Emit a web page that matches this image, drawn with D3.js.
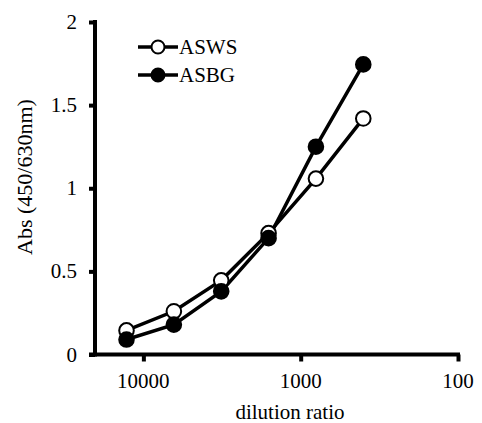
<!DOCTYPE html>
<html>
<head>
<meta charset="utf-8">
<script src="https://cdn.jsdelivr.net/npm/d3@7"></script>
<style>
html,body{margin:0;padding:0;background:#fff;}
</style>
</head>
<body>
<svg id="chart" width="482" height="423"></svg>
<script>
const dilutions = [12800, 6400, 3200, 1600, 800, 400];
const aswsValues = [0.145, 0.26, 0.446, 0.73, 1.058, 1.42];
const asbgValues = [0.09, 0.18, 0.38, 0.70, 1.25, 1.745];
const xTickValues = [10000, 1000, 100];
const yTickValues = [0, 0.5, 1, 1.5, 2];
const seriesNames = ["ASWS", "ASBG"];

const FONT_CSS = "21px Tinos, 'Liberation Serif', serif";
const svg = d3.select("#chart");
const x = d3.scaleLog().domain([20300, 100]).range([95, 458]);
const y = d3.scaleLinear().domain([0, 2]).range([354.5, 22]);

function addText(parent, txt, size) {
  return parent.append("text").style("font", `${size}px Tinos, 'Liberation Serif', serif`)
    .attr("fill", "#000").text(txt);
}

// Axes (lines + ticks via d3 axis, labels drawn as separate text)
const gx = svg.append("g").attr("transform", "translate(0,354.5)")
  .call(d3.axisBottom(x).tickValues(xTickValues).tickFormat("").tickSize(7).tickSizeOuter(0));
gx.select(".domain").attr("stroke", "#000").attr("stroke-width", 4).attr("d", "M89,0H460");
gx.selectAll(".tick line").attr("stroke", "#000").attr("stroke-width", 4);
gx.selectAll(".tick text").remove();

const gy = svg.append("g").attr("transform", "translate(95,0)")
  .call(d3.axisLeft(y).tickValues(yTickValues).tickFormat("").tickSize(6).tickSizeOuter(0));
gy.select(".domain").attr("stroke", "#000").attr("stroke-width", 4).attr("d", "M0,20V356.5");
gy.selectAll(".tick line").attr("stroke", "#000").attr("stroke-width", 4);
gy.selectAll(".tick text").remove();

const labels = svg.append("g");
xTickValues.forEach(v => {
  addText(labels, String(v), 21).attr("x", x(v)).attr("y", 388).attr("text-anchor", "middle");
});
yTickValues.forEach(v => {
  addText(labels, String(v), 21).attr("x", 77).attr("y", y(v) + 7).attr("text-anchor", "end");
});

// Axis titles
addText(svg, "dilution ratio", 21).attr("x", 290).attr("y", 419).attr("text-anchor", "middle");
addText(svg, "Abs (450/630nm)", 22).attr("transform", "translate(32,177) rotate(-90)").attr("text-anchor", "middle");

const line = d3.line().x(d => x(d[0])).y(d => y(d[1]));
const data = [
  {name: seriesNames[0], vals: dilutions.map((d, i) => [d, aswsValues[i]]), fill: "#fff"},
  {name: seriesNames[1], vals: dilutions.map((d, i) => [d, asbgValues[i]]), fill: "#000"}
];

data.forEach(s => {
  svg.append("path").attr("d", line(s.vals)).attr("fill", "none")
    .attr("stroke", "#000").attr("stroke-width", 3.5);
});
data.forEach(s => {
  svg.selectAll(null).data(s.vals).enter().append("circle")
    .attr("cx", d => x(d[0])).attr("cy", d => y(d[1])).attr("r", 7.3)
    .attr("fill", s.fill).attr("stroke", "#000").attr("stroke-width", 2);
});

// Legend
data.forEach((s, i) => {
  const ly = 47 + i * 28;
  svg.append("line").attr("x1", 138).attr("x2", 178).attr("y1", ly).attr("y2", ly)
    .attr("stroke", "#000").attr("stroke-width", 3.5);
  svg.append("circle").attr("cx", 158).attr("cy", ly).attr("r", 6.5)
    .attr("fill", s.fill).attr("stroke", "#000").attr("stroke-width", 2);
  addText(svg, s.name, 21).attr("x", 179).attr("y", ly + 7);
});
</script>
</body>
</html>
